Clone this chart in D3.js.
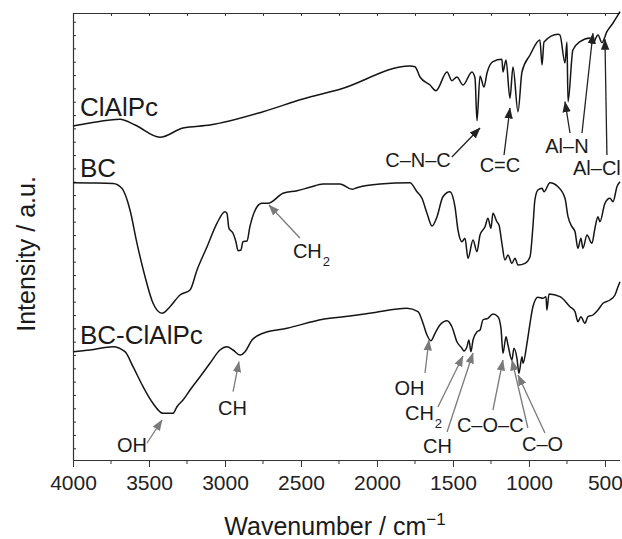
<!DOCTYPE html>
<html><head><meta charset="utf-8">
<script src="https://cdn.jsdelivr.net/npm/d3@7/dist/d3.min.js"></script>
<style>
body{margin:0;background:#fff;}
svg{display:block;font-family:"Liberation Sans",Arial,Helvetica,sans-serif;}
</style></head>
<body>
<svg id="chart" width="622" height="539"></svg>
<script>
// ---- data (wavenumber in cm^-1, intensity in arbitrary units) ----
const clalpcWn = [4000,3888,3691,3592,3428,3276,3099,2750,2487,2243,1783,1750,1717,1651,1612,1539,1507,1474,1434,1375,1355,1342,1322,1296,1276,1237,1178,1171,1151,1125,1105,1072,1046,993,928,914,901,809,796,763,750,743,711,664,599,579,546,520,487,447,401];
const clalpcI  = [334,337,340.7,335,322.7,332,335,348.3,361,370.7,394,393.3,383,375,369.3,388,379.3,383,375,388,382,339.3,384,373,387,398.3,400.7,388,400,361.7,393,348.3,388,405,420,395,418,425.7,425,397,418,358.3,410,418.3,422,417,425,417.3,428.3,437,448.3];

const bcWn = [4000,3888,3737,3678,3625,3579,3526,3474,3414,3362,3296,3230,3184,3118,3053,3000,2987,2974,2947,2928,2914,2895,2882,2855,2836,2789,2757,2717,2618,2526,2441,2355,2243,2164,2132,1980,1783,1737,1704,1671,1638,1605,1566,1520,1487,1467,1441,1421,1401,1368,1342,1322,1289,1270,1250,1237,1211,1197,1178,1158,1138,1112,1092,1072,1026,993,974,961,941,914,901,862,809,763,743,717,697,678,658,645,618,586,566,546,533,500,467,447,421,401];
const bcI  = [277.3,277,276.5,271.7,250,216.7,183.3,157,146.7,153.3,165,170,190,213.3,236.7,248.3,246.7,231.7,226.7,218.3,209.3,210,218.3,219,233.3,253.3,256.7,256.7,266.7,269.3,272.7,276,276,270.7,272.3,276,277.3,268.3,261.7,246.7,234,243.3,263.3,268.3,253.3,230,218.3,221.7,201.7,220,208.3,225,233.3,241.7,231.7,246.7,238.3,235,216.7,200,205,196.7,201.7,195,196.7,203.3,233.3,260,270,271.7,268.3,277.3,273.3,261.7,243.3,233.3,228.3,211.7,221.7,211.7,225,216.7,231.7,243.3,238.3,256.7,261.7,258.3,273.3,278.3];

const bcClalpcWn = [4000,3888,3737,3658,3605,3539,3474,3408,3342,3316,3276,3230,3164,3099,3033,2987,2947,2901,2868,2822,2750,2592,2355,2178,2026,1803,1730,1697,1671,1645,1618,1586,1539,1507,1474,1441,1428,1408,1395,1382,1368,1342,1322,1303,1270,1237,1204,1184,1171,1151,1138,1112,1099,1079,1066,1046,1039,1013,993,974,941,908,888,882,868,796,730,697,678,658,632,612,579,546,513,467,434,414,401];
const bcClalpcI  = [108.3,110,113.3,108.3,93.3,73.3,56.7,46.7,46.7,53.3,60,70,83.3,96.7,110,113.3,110,105,108.3,120,126.7,131.7,140.7,144,147.3,151.7,148.3,136.7,125,119.3,126.7,135,139.3,133.3,118.3,111.7,109,113.3,120,108.3,120,128.3,130,140,141.7,146,143.3,131.7,106.7,123.3,115,100,111.7,101.7,86.7,103.3,96.7,116.7,136.7,153.3,162.7,161.7,163.3,150,166,163.3,153.3,148.3,138.3,143.3,136.7,143.3,145,150,156.7,160,165,173.3,178.3];

const seriesNames = ["ClAlPc","BC","BC-ClAlPc"];
const seriesLabelWn = [3954,3954,3954];
const seriesLabelI = [344,283.5,115.7];

const xTickLabels = [4000,3500,3000,2500,2000,1500,1000,500];
const xMinorTicks = [3750,3250,2750,2250,1750,1250,750];

// annotations: label, text position (wn, I), anchor, colour group, arrows [[tailWn,tailI,tipWn,tipI],...]
const annLabels = ["C–N–C","C=C","Al–N","Al–Cl","CH|2","OH","CH","OH","CH|2","CH","C–O–C","C–O"];
const annTextWn = [1730,1191,750,553,2553,3612,2951,1786,1816,1697,1474,1046];
const annTextI  = [293.3,288.3,306.7,285,201.7,8.3,45,65,40,7,28,9];
const annAnchor = ["middle","middle","middle","middle","start","middle","middle","middle","start","start","start","start"];
const annDark   = [true,true,true,true,false,false,false,false,false,false,false,false];
const annArrows = [
  [[1507,303,1322,332]],
  [[1164,305,1125,352]],
  [[730,327,763,358.3],[651,327,579,426.7]],
  [[487,305,500,420.7]],
  [[2507,222,2711,255]],
  [[3513,17,3414,40]],
  [[2947,68.3,2908,98.3]],
  [[1684,87,1658,120]],
  [[1599,53,1434,104]],
  [[1539,28,1368,107]],
  [[1237,50,1171,100]],
  [[1007,32,1112,100],[895,27,1072,85]]
];

// ---- drawing ----
const svg = d3.select("#chart");
const L = 73, R = 620, T = 13, B = 460;
const x = d3.scaleLinear().domain([4000, 401]).range([L, R]);
const y = d3.scaleLinear().domain([0, 447]).range([B, T]);

const defs = svg.append("defs");
function marker(id, col){
  defs.append("marker").attr("id", id).attr("viewBox","0 0 10 10")
    .attr("refX", 9.5).attr("refY", 5).attr("markerWidth", 11).attr("markerHeight", 11)
    .attr("markerUnits","userSpaceOnUse").attr("orient","auto")
    .append("path").attr("d","M0,1.2 L10,5 L0,8.8 Z").attr("fill", col);
}
marker("arrDark", "#222");
marker("arrGray", "#7a7a7a");

const axisCol = "#333";
// bottom axis
const gB = svg.append("g").attr("transform", `translate(0,${B})`)
  .call(d3.axisBottom(x).tickValues(xTickLabels).tickSize(7).tickPadding(8).tickFormat(d3.format("d")));
gB.append("g").selectAll("line").data(xMinorTicks).join("line")
  .attr("x1", d => x(d)).attr("x2", d => x(d)).attr("y1", 0).attr("y2", 4).attr("stroke", axisCol);
gB.select(".domain").attr("d", `M${L},0.5H${R}`);
gB.selectAll("text").attr("font-size", 21).attr("fill", "#222").attr("font-family", "Liberation Sans, Arial, sans-serif");
// top axis ticks inward
const gT = svg.append("g").attr("transform", `translate(0,${T})`)
  .call(d3.axisTop(x).tickValues(xTickLabels.concat(xMinorTicks)).tickSize(-3).tickFormat(""));
gT.select(".domain").attr("d", `M${L},0.5H${R}`);
// left axis ticks inward
const yTicks = d3.range(11.7, 447, 13.33);
const gL = svg.append("g").attr("transform", `translate(${L},0)`)
  .call(d3.axisLeft(y).tickValues(yTicks).tickSize(-3).tickFormat(""));
gL.select(".domain").attr("d", `M0.5,${T}V${B}`);
svg.selectAll(".domain").attr("stroke", axisCol).attr("stroke-width", 1.2);
svg.selectAll(".tick line").attr("stroke", axisCol);

// curves
const line = d3.line().x(d => x(d[0])).y(d => y(d[1])).curve(d3.curveMonotoneX);
const series = [d3.zip(clalpcWn, clalpcI), d3.zip(bcWn, bcI), d3.zip(bcClalpcWn, bcClalpcI)];
svg.append("g").selectAll("path").data(series).join("path")
  .attr("d", line).attr("fill","none").attr("stroke","#151515").attr("stroke-width",1.5)
  .attr("stroke-linejoin","round");

// series labels
svg.append("g").selectAll("text").data(seriesNames).join("text")
  .attr("x", (d,i) => x(seriesLabelWn[i])).attr("y", (d,i) => y(seriesLabelI[i]))
  .attr("font-size", 26).attr("fill","#1a1a1a").text(d => d);

// annotations
const gA = svg.append("g");
annLabels.forEach((lab, i) => {
  const col = annDark[i] ? "#222" : "#7a7a7a";
  annArrows[i].forEach(a => {
    gA.append("line").attr("x1", x(a[0])).attr("y1", y(a[1])).attr("x2", x(a[2])).attr("y2", y(a[3]))
      .attr("stroke", col).attr("stroke-width", 1.3)
      .attr("marker-end", annDark[i] ? "url(#arrDark)" : "url(#arrGray)");
  });
  const parts = lab.split("|");
  const t = gA.append("text").attr("x", x(annTextWn[i])).attr("y", y(annTextI[i]))
    .attr("text-anchor", annAnchor[i]).attr("font-size", 20).attr("fill", "#1a1a1a");
  t.append("tspan").text(parts[0]);
  if (parts[1]) t.append("tspan").attr("font-size", 13).attr("dy", 8).attr("dx", 1).text(parts[1]);
});

// axis titles
svg.append("text").attr("x", 335).attr("y", 535).attr("text-anchor","middle")
  .attr("font-size", 25).attr("fill","#1a1a1a")
  .call(t => { t.append("tspan").text("Wavenumber / cm"); t.append("tspan").attr("font-size",17).attr("dy",-10).text("−1"); });
svg.append("text").attr("transform","translate(35,254) rotate(-90)").attr("text-anchor","middle")
  .attr("font-size", 25).attr("fill","#1a1a1a").text("Intensity / a.u.");
</script>
</body></html>
